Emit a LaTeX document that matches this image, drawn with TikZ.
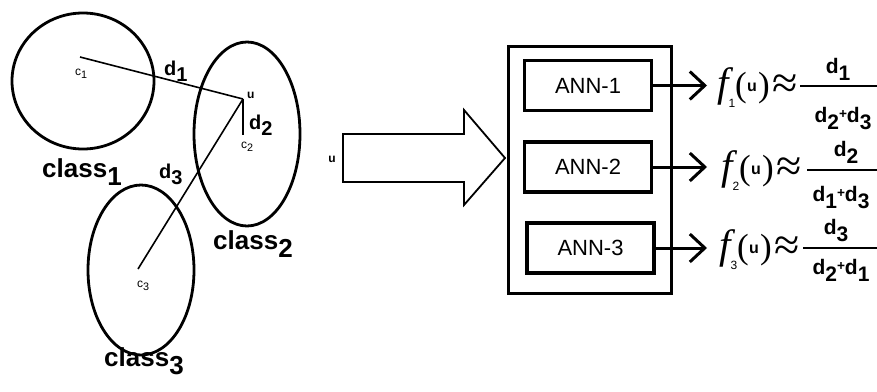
\documentclass[tikz,border=0pt]{standalone}
\usepackage{fontspec}
\setmainfont{Liberation Sans}
\newfontfamily\serifrm{Liberation Serif}
\usetikzlibrary{arrows.meta}

\newcommand\sbs[3]{#1\raisebox{-#3}{#2}}
\newcommand\den[2]{d\raisebox{-7pt}{#1}\raisebox{4pt}{\scalebox{0.65}{+}}d\raisebox{-7pt}{#2}}

\tikzset{
  cls/.style={line width=2.8pt},
  dist/.style={line width=1.6pt},
  annbox/.style={draw, line width=3.5pt, minimum width=127pt, minimum height=50pt, inner sep=0pt, font=\fontsize{22}{24}\selectfont},
  outbox/.style={draw, line width=3pt, minimum width=163pt, minimum height=247pt, inner sep=0pt},
  outarrow/.style={line width=3pt, -{Straight Barb[length=15pt,width=28pt]}},
  classlab/.style={anchor=base west, inner sep=0pt, font=\fontsize{26}{28}\selectfont\bfseries},
  dlab/.style={anchor=base west, inner sep=0pt, font=\fontsize{20}{22}\selectfont\bfseries},
  clab/.style={anchor=base west, inner sep=0pt, font=\fontsize{12}{13}\selectfont},
  fsym/.style={anchor=base, inner sep=0pt, font=\fontsize{41}{41}\selectfont\serifrm\itshape},
  fsub/.style={anchor=base, inner sep=0pt, font=\fontsize{12}{12}\selectfont},
  paren/.style={anchor=base, inner sep=0pt, font=\fontsize{35}{35}\selectfont\serifrm},
  uarg/.style={anchor=base, inner sep=0pt, font=\fontsize{16}{16}\selectfont\bfseries},
  approx/.style={anchor=base, inner sep=0pt, font=\fontsize{46}{46}\selectfont\serifrm},
  fracnum/.style={anchor=base, inner sep=0pt, font=\fontsize{21}{22}\selectfont\bfseries},
  bar/.style={line width=2.5pt},
}

% #1 name, #2 x offset, #3 baseline, #4 subscript
\newcommand\fpart[4]{%
  \node[fsym] (#1f) at (723+#2,#3) {f};
  \node[fsub] (#1s) at (732+#2,#3+11) {#4};
  \node[paren] (#1l) at (741+#2,#3) {(};
  \node[uarg] (#1u) at (752+#2,#3-5) {u};
  \node[paren] (#1r) at (764+#2,#3) {)};
  \node[approx] (#1a) at (785+#2,#3+2) {≈};
}

\begin{document}
\begin{tikzpicture}[x=1pt,y=-1pt]
\useasboundingbox (0,0) rectangle (877,391);

% ---- left: classes ----
\draw[cls] (83,81) ellipse [x radius=71pt, y radius=68pt];
\draw[cls] (247,134) ellipse [x radius=53pt, y radius=92pt];
\draw[cls] (141,270) ellipse [x radius=53pt, y radius=85pt];

\coordinate (c1) at (80,57);
\coordinate (u) at (243,99);
\coordinate (c2) at (243,135);
\coordinate (c3) at (138,269);
\draw[dist] (c1) -- (u);
\draw[dist] (u) -- (c2);
\draw[dist] (u) -- (c3);

\node[clab] (lc1) at (75,75) {c\raisebox{-3pt}{\scalebox{0.9}{1}}};
\node[clab] (lc2) at (241,148) {c\raisebox{-3pt}{\scalebox{0.9}{2}}};
\node[clab] (lc3) at (137,287) {c\raisebox{-3pt}{\scalebox{0.9}{3}}};
\node[clab, font=\fontsize{12}{13}\selectfont\bfseries] (lu) at (247,98) {u};

\node[dlab] (d1) at (164,75) {\sbs{d}{1}{6pt}};
\node[dlab] (d2) at (249,129) {\sbs{d}{2}{6pt}};
\node[dlab] (d3) at (159,178) {\sbs{d}{3}{6pt}};

\node[classlab] (cl1) at (42,177) {\sbs{class}{1}{8pt}};
\node[classlab] (cl2) at (213,249) {\sbs{class}{2}{8pt}};
\node[classlab] (cl3) at (104,366) {\sbs{class}{3}{8pt}};

% ---- middle: input arrow ----
\node[anchor=base, inner sep=0pt, font=\fontsize{12}{12}\selectfont\bfseries] (uin) at (332,162) {u};
\draw[line width=1.8pt, line join=miter] (343,134) -- (464,134) -- (464,110) -- (505,158) -- (464,205) -- (464,182) -- (343,182) -- cycle;

% ---- ensemble box ----
\node[outbox] (ens) at (590,170) {};
\node[annbox] (a1) at (588,85.5) {ANN-1};
\node[annbox] (a2) at (588,167) {ANN-2};
\node[annbox] (a3) at (590.5,248) {ANN-3};

\coordinate (t1) at (707,85.5);
\coordinate (t2) at (707,167);
\coordinate (t3) at (707,248);
\draw[outarrow] (a1.east) -- (t1);
\draw[outarrow] (a2.east) -- (t2);
\draw[outarrow] (a3.east) -- (t3);

% ---- formulas ----
\fpart{p}{0}{96}{1}
\fpart{q}{4}{179}{2}
\fpart{r}{2}{258}{3}

\coordinate (b1s) at (800,86);  \coordinate (b1e) at (877,86);
\coordinate (b2s) at (807,170); \coordinate (b2e) at (877,170);
\coordinate (b3s) at (803,248); \coordinate (b3e) at (877,248);
\draw[bar] (b1s) -- (b1e);
\draw[bar] (b2s) -- (b2e);
\draw[bar] (b3s) -- (b3e);

\node[fracnum] (n1) at (838,73) {\sbs{d}{1}{7pt}};
\node[fracnum] (m1) at (843,122) {\den{2}{3}};
\node[fracnum] (n2) at (846,156) {\sbs{d}{2}{7pt}};
\node[fracnum] (m2) at (841,201) {\den{1}{3}};
\node[fracnum] (n3) at (836,234) {\sbs{d}{3}{7pt}};
\node[fracnum] (m3) at (841,274) {\den{2}{1}};
\end{tikzpicture}
\end{document}
